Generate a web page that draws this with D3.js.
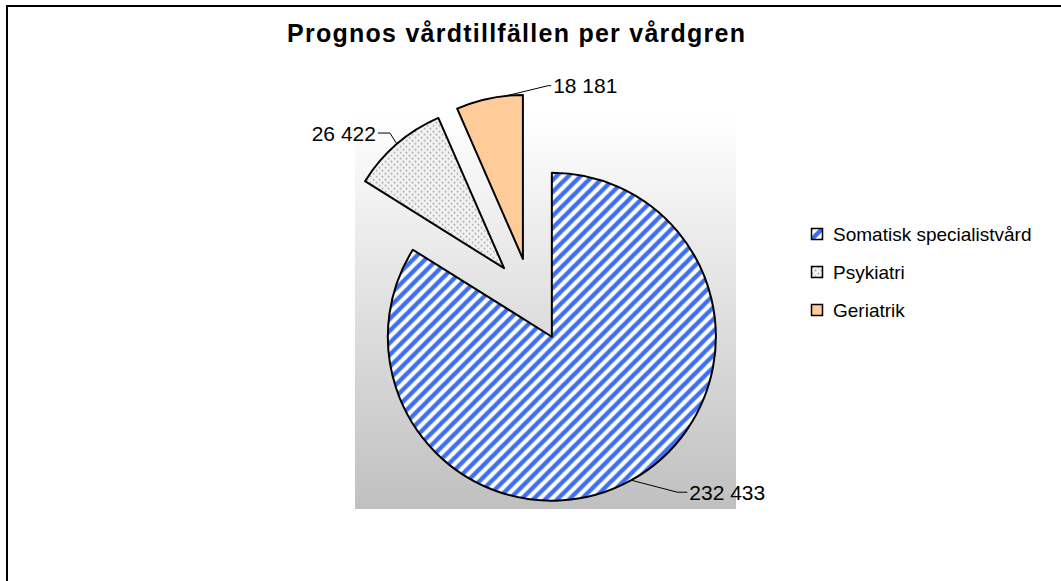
<!DOCTYPE html>
<html>
<head>
<meta charset="utf-8">
<script src="https://cdn.jsdelivr.net/npm/d3@7"></script>
<style>
  body { margin: 0; background: #fff; }
  svg text { font-family: Arial, "Liberation Sans", sans-serif; }
</style>
</head>
<body>
<div id="chart"></div>
<script>
const categories = ['Somatisk specialistvård', 'Psykiatri', 'Geriatrik'];
const values = [232433, 26422, 18181];
const fills = ['url(#stripes)', 'url(#dots)', '#ffcc99'];

// label placement: angle nudge (deg), elbow offset, tail length
const labelNudge = [0, 0, 6.3];
const labelElbow = [[46, 12], [-7, -11], [41, -10]];
const labelTail = [10, -12, 3];

function initPie() {
    const width = 1061, height = 581;
    const cx = 531.5, cy = 300, radius = 164, explode = 42;
    const fmt = d3.formatLocale({ thousands: ' ', grouping: [3], decimal: ',', currency: ['', ''] }).format(',');

    const svg = d3.select('#chart').append('svg')
        .attr('width', width)
        .attr('height', height);

    const defs = svg.append('defs');
    const grad = defs.append('linearGradient').attr('id', 'plotBg')
        .attr('x1', 0).attr('y1', 0).attr('x2', 0).attr('y2', 1);
    grad.append('stop').attr('offset', '0%').attr('stop-color', '#ffffff');
    grad.append('stop').attr('offset', '100%').attr('stop-color', '#c0c0c0');

    const p = 12;
    const stripes = defs.append('pattern').attr('id', 'stripes')
        .attr('patternUnits', 'userSpaceOnUse')
        .attr('width', p).attr('height', p);
    stripes.append('rect').attr('width', p).attr('height', p).attr('fill', '#ffffff');
    stripes.append('path')
        .attr('d', `M-3,3 L3,-3 M0,${p} L${p},0 M${p - 3},${p + 3} L${p + 3},${p - 3}`)
        .attr('stroke', '#3d6ff6').attr('stroke-width', 4.4);

    const dots = defs.append('pattern').attr('id', 'dots')
        .attr('patternUnits', 'userSpaceOnUse')
        .attr('width', 6).attr('height', 6);
    dots.append('rect').attr('width', 6).attr('height', 6).attr('fill', '#f3f3f3');
    dots.append('circle').attr('cx', 1.5).attr('cy', 1.5).attr('r', 1).attr('fill', '#a9a9a9');
    dots.append('circle').attr('cx', 4.5).attr('cy', 4.5).attr('r', 1).attr('fill', '#a9a9a9');

    // outer chart frame
    svg.append('rect')
        .attr('x', 7).attr('y', 6)
        .attr('width', 1200).attr('height', 700)
        .attr('fill', 'none').attr('stroke', '#000').attr('stroke-width', 2);

    // plot area
    svg.append('rect')
        .attr('x', 355).attr('y', 114)
        .attr('width', 381).attr('height', 395)
        .attr('fill', 'url(#plotBg)');

    svg.append('text')
        .attr('x', 516).attr('y', 42)
        .attr('text-anchor', 'middle')
        .attr('font-size', '25px')
        .attr('font-weight', 'bold')
        .attr('textLength', 458)
        .attr('lengthAdjust', 'spacing')
        .text('Prognos vårdtillfällen per vårdgren');

    const pie = d3.pie().sort(null).value(d => d);
    const arcs = pie(values);
    const arc = d3.arc().innerRadius(0).outerRadius(radius);

    const g = svg.append('g').attr('transform', `translate(${cx},${cy})`);

    arcs.forEach((a, i) => {
        const mid = (a.startAngle + a.endAngle) / 2;
        const ox = explode * Math.sin(mid), oy = -explode * Math.cos(mid);
        g.append('path')
            .attr('d', arc(a))
            .attr('transform', `translate(${ox},${oy})`)
            .attr('fill', fills[i])
            .attr('stroke', '#000')
            .attr('stroke-width', 2)
            .attr('stroke-linejoin', 'round');

        // leader line and value label
        const la = mid + labelNudge[i] * Math.PI / 180;
        const sx = ox + radius * Math.sin(la), sy = oy - radius * Math.cos(la);
        const ex = sx + labelElbow[i][0], ey = sy + labelElbow[i][1];
        const tx = ex + labelTail[i];
        g.append('path')
            .attr('d', `M${sx},${sy}L${ex},${ey}L${tx},${ey}`)
            .attr('fill', 'none').attr('stroke', '#000').attr('stroke-width', 1);
        g.append('text')
            .attr('x', tx + (labelTail[i] > 0 ? 2 : -2))
            .attr('y', ey)
            .attr('dy', '0.36em')
            .attr('text-anchor', labelTail[i] > 0 ? 'start' : 'end')
            .attr('font-size', '21px')
            .text(fmt(values[i]));
    });

    // legend
    const legend = svg.append('g').attr('transform', 'translate(811,228)');
    const rows = legend.selectAll('g').data(categories).join('g')
        .attr('transform', (d, i) => `translate(0,${i * 38})`);
    rows.append('rect')
        .attr('x', 0.5).attr('y', 0.5)
        .attr('width', 11).attr('height', 11)
        .attr('fill', (d, i) => fills[i])
        .attr('stroke', '#000').attr('stroke-width', 1.5);
    rows.append('text')
        .attr('x', 22).attr('y', 6)
        .attr('dy', '0.36em')
        .attr('font-size', '19px')
        .text(d => d);
}

initPie();
</script>
</body>
</html>
